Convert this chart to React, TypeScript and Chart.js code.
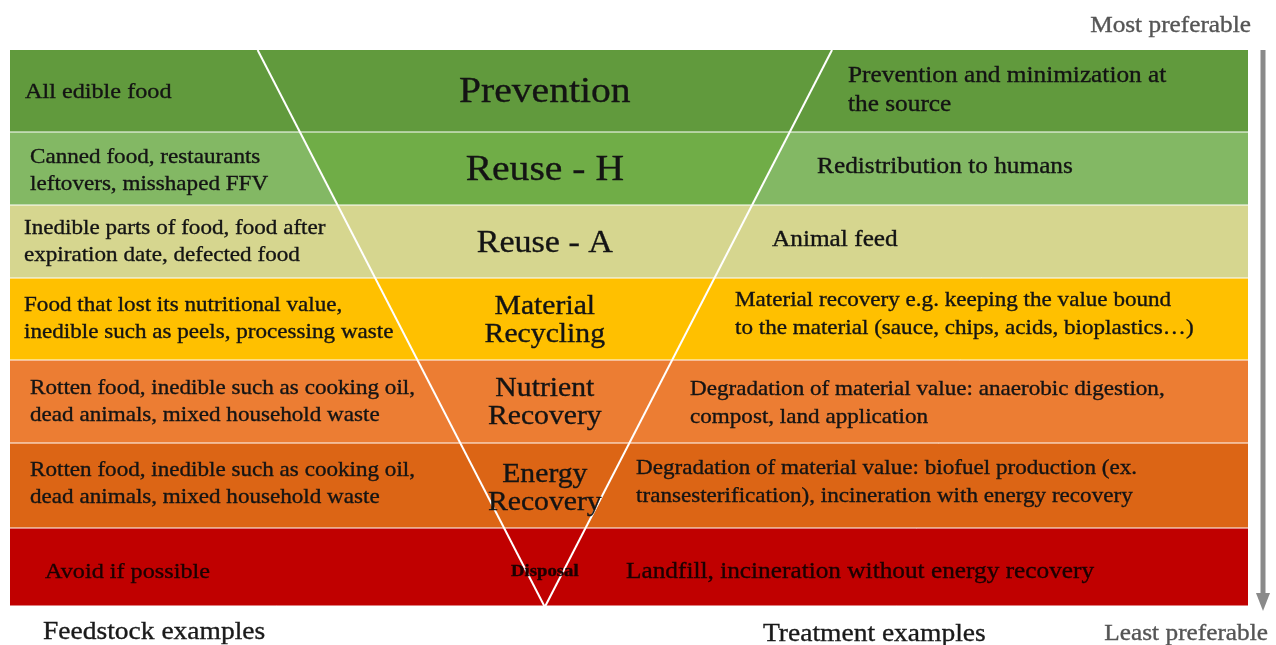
import React, { useEffect, useRef } from 'react';
import { Chart, registerables } from 'chart.js';

Chart.register(...registerables);

// ---------- data ----------
const levels: string[][] = [
  ['Prevention'],
  ['Reuse - H'],
  ['Reuse - A'],
  ['Material', 'Recycling'],
  ['Nutrient', 'Recovery'],
  ['Energy', 'Recovery'],
  ['Disposal'],
];

const feedstockExamples: string[][] = [
  ['All edible food'],
  ['Canned food, restaurants', 'leftovers, misshaped FFV'],
  ['Inedible parts of food, food after', 'expiration date, defected food'],
  ['Food that lost its nutritional value,', 'inedible such as peels, processing waste'],
  ['Rotten food, inedible such as cooking oil,', 'dead animals, mixed household waste'],
  ['Rotten food, inedible such as cooking oil,', 'dead animals, mixed household waste'],
  ['Avoid if possible'],
];

const treatmentExamples: string[][] = [
  ['Prevention and minimization at', 'the source'],
  ['Redistribution to humans'],
  ['Animal feed'],
  ['Material recovery e.g. keeping the value bound', 'to the material (sauce, chips, acids, bioplastics…)'],
  ['Degradation of material value: anaerobic digestion,', 'compost, land application'],
  ['Degradation of material value: biofuel production (ex.', 'transesterification), incineration with energy recovery'],
  ['Landfill, incineration without energy recovery'],
];

const sideColors = ['#619a3d', '#83b864', '#d6d68f', '#ffc000', '#ec7d33', '#dc6515', '#c00000'];
const centerColors = ['#619a3d', '#70ad47', '#d6d68f', '#ffc000', '#ec7d33', '#dc6515', '#c00000'];

const topLabel = 'Most preferable';
const bottomLabel = 'Least preferable';
const leftFooter = 'Feedstock examples';
const rightFooter = 'Treatment examples';

// ---------- layout ----------
const ROW_HEIGHTS = [81, 71, 71, 80, 81, 83, 76];
const ROW_GAP = 2;
const Y_MAX = 557;
const V_TOP_LEFT = 20;
const V_TOP_RIGHT = 66.4;
const V_APEX = 43.2;
const LEFT_X = [1.21, 1.62, 1.13, 1.13, 1.62, 1.62, 2.83];
const RIGHT_X = [67.69, 65.19, 61.55, 58.56, 54.93, 50.57, 49.76];
const LEFT_DY = [0, 0, -2, -2, -2, -4, 3];
const CENTER_DY = [0, 0, 0, 0, -1, 1, 3];
const RIGHT_DY = [-2, -4, -4, -7, 0, -5, 3];
const LEFT_SIZE = [22, 21, 21, 21, 21, 21, 22];
const CENTER_SIZE = [36, 36, 31, 27, 27, 27, 17];
const RIGHT_SIZE = [23, 23, 23, 21, 21, 21, 23];
const STRETCH = 1.1;
const TEXT_SHIFT = 2;
const FONT = '"Liberation Serif", "Times New Roman", serif';

const rowTops: number[] = [];
const rowBottoms: number[] = [];
{
  let acc = 0;
  ROW_HEIGHTS.forEach((h) => {
    rowTops.push(acc);
    rowBottoms.push(acc + h);
    acc += h + ROW_GAP;
  });
}

const xLeftAt = (y: number) => V_TOP_LEFT + (V_APEX - V_TOP_LEFT) * (y / Y_MAX);
const xRightAt = (y: number) => V_TOP_RIGHT + (V_APEX - V_TOP_RIGHT) * (y / Y_MAX);

function polygon(points: [number, number][], color: string) {
  return {
    data: points.map(([x, y]) => ({ x, y })),
    showLine: true,
    fill: 'shape',
    backgroundColor: color,
    borderColor: color,
    borderWidth: 1,
    pointRadius: 0,
    tension: 0,
    order: 2,
  };
}

function buildDatasets() {
  const ds: any[] = [];
  levels.forEach((_, i) => {
    const t = rowTops[i];
    const b = rowBottoms[i];
    const lt = xLeftAt(t), lb = xLeftAt(b), rt = xRightAt(t), rb = xRightAt(b);
    ds.push(polygon([[0, t], [lt, t], [lb, b], [0, b], [0, t]], sideColors[i]));
    ds.push(polygon([[lt, t], [rt, t], [rb, b], [lb, b], [lt, t]], centerColors[i]));
    ds.push(polygon([[rt, t], [100, t], [100, b], [rb, b], [rt, t]], sideColors[i]));
  });
  const vLine = (pts: [number, number][]) => ({
    data: pts.map(([x, y]) => ({ x, y })),
    showLine: true,
    fill: false,
    borderColor: '#ffffff',
    borderWidth: 2,
    pointRadius: 0,
    tension: 0,
    clip: false,
    order: 0,
  });
  ds.push(vLine([[V_TOP_LEFT, 0], [V_APEX, Y_MAX]]));
  ds.push(vLine([[V_TOP_RIGHT, 0], [V_APEX, Y_MAX]]));
  return ds;
}

function drawText(
  ctx: CanvasRenderingContext2D,
  text: string,
  x: number,
  y: number,
  size: number,
  align: CanvasTextAlign,
  color: string,
  bold = false
) {
  ctx.save();
  ctx.font = `${bold ? 'bold ' : ''}${size}px ${FONT}`;
  ctx.fillStyle = color;
  ctx.strokeStyle = color;
  ctx.lineWidth = 0.35;
  ctx.textAlign = align;
  ctx.textBaseline = 'middle';
  ctx.translate(x, y + TEXT_SHIFT);
  ctx.scale(STRETCH, 1);
  ctx.fillText(text, 0, 0);
  ctx.strokeText(text, 0, 0);
  ctx.restore();
}

const textPlugin = {
  id: 'hierarchyText',
  afterDatasetsDraw(chart: any) {
    const { ctx, chartArea } = chart;
    const xs = chart.scales.x;
    const ys = chart.scales.y;
    const LINE = 27;
    levels.forEach((lines, i) => {
      const mid = (ys.getPixelForValue(rowTops[i]) + ys.getPixelForValue(rowBottoms[i])) / 2;
      const color = i === 6 ? '#1c0000' : '#141414';
      // feedstock (left)
      const lf = feedstockExamples[i];
      lf.forEach((s, k) => {
        const y = mid + LEFT_DY[i] + (k - (lf.length - 1) / 2) * LINE;
        drawText(ctx, s, xs.getPixelForValue(LEFT_X[i]), y, LEFT_SIZE[i], 'left', color);
      });
      // hierarchy level (center)
      lines.forEach((s, k) => {
        const y = mid + CENTER_DY[i] + (k - (lines.length - 1) / 2) * (LINE + 1);
        drawText(ctx, s, xs.getPixelForValue(V_APEX), y, CENTER_SIZE[i], 'center', color, i === 6);
      });
      // treatment (right)
      const rt = treatmentExamples[i];
      rt.forEach((s, k) => {
        const lh = i === 0 ? 29 : LINE + 1;
        const y = mid + RIGHT_DY[i] + (k - (rt.length - 1) / 2) * lh;
        drawText(ctx, s, xs.getPixelForValue(RIGHT_X[i]), y, RIGHT_SIZE[i], 'left', color);
      });
    });

    // footers and preference labels
    drawText(ctx, leftFooter, chartArea.left + 33, chartArea.bottom + 23, 25, 'left', '#1a1a1a');
    drawText(ctx, rightFooter, chartArea.left + 753, chartArea.bottom + 25, 25, 'left', '#1a1a1a');
    drawText(ctx, topLabel, chartArea.right + 3, chartArea.top - 26, 23, 'right', '#555555');
    drawText(ctx, bottomLabel, chartArea.right + 20, chartArea.bottom + 25, 23, 'right', '#555555');

    // preference arrow
    const ax = chartArea.right + 15;
    ctx.save();
    ctx.strokeStyle = '#8a8a8a';
    ctx.fillStyle = '#8a8a8a';
    ctx.lineWidth = 5;
    ctx.beginPath();
    ctx.moveTo(ax, chartArea.top);
    ctx.lineTo(ax, chartArea.bottom - 12);
    ctx.stroke();
    ctx.beginPath();
    ctx.moveTo(ax - 7, chartArea.bottom - 14);
    ctx.lineTo(ax + 7, chartArea.bottom - 14);
    ctx.lineTo(ax, chartArea.bottom + 4);
    ctx.closePath();
    ctx.fill();
    ctx.restore();
  },
};

export default function App() {
  const canvasRef = useRef<HTMLCanvasElement | null>(null);

  useEffect(() => {
    if (!canvasRef.current) return;
    const chart = new Chart(canvasRef.current, {
      type: 'scatter',
      data: { datasets: buildDatasets() },
      options: {
        animation: false,
        responsive: true,
        maintainAspectRatio: false,
        events: [],
        layout: { padding: { left: 10, right: 28, top: 50, bottom: 38 } },
        scales: {
          x: { type: 'linear', min: 0, max: 100, display: false },
          y: { type: 'linear', min: 0, max: Y_MAX, reverse: true, display: false },
        },
        plugins: {
          legend: { display: false },
          tooltip: { enabled: false },
        },
      } as any,
      plugins: [textPlugin],
    });
    return () => chart.destroy();
  }, []);

  return (
    <div style={{ position: 'absolute', left: 0, top: 0, width: 1276, height: 645, background: '#ffffff' }}>
      <canvas ref={canvasRef} />
    </div>
  );
}
